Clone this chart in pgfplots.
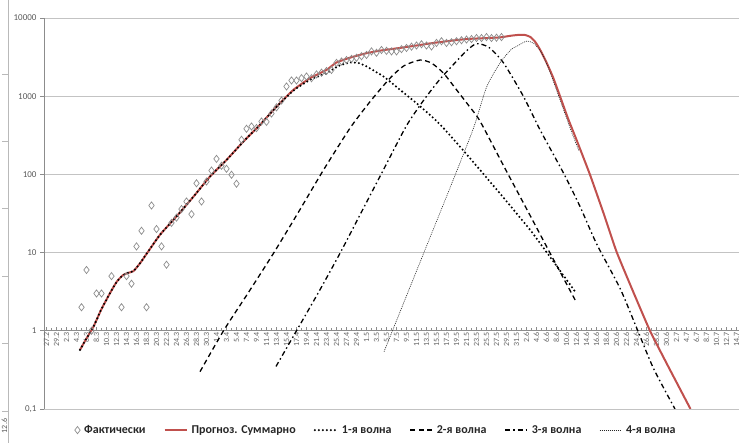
\documentclass[border=0pt]{standalone}
\usepackage{pgfplots}
\pgfplotsset{compat=1.18}
\usepackage{fontspec}
\setmainfont{Carlito}
\definecolor{exred}{RGB}{192,80,77}
\definecolor{gridgray}{RGB}{195,195,195}
\definecolor{axgray}{RGB}{140,140,140}
\definecolor{labgray}{RGB}{89,89,89}
\definecolor{ticklab}{RGB}{100,100,100}
\pgfplotsset{legline/.style={legend image code/.code={\draw[##1] (0pt,0pt) -- (22pt,0pt);}}}
\begin{document}
\begin{tikzpicture}[x=1pt,y=1pt]
\useasboundingbox (0,0) rectangle (739,443);
% fragment of a neighbouring chart at the left edge
\draw[gray!55, line width=0.6pt] (8,0) -- (8,443);
\foreach \yy in {369,302,235,167,100,32} \draw[gray!55, line width=0.6pt] (2,\yy) -- (8,\yy);
\node[rotate=90, font=\fontsize{8}{9}\selectfont, text=labgray, inner sep=0pt] at (4.5,17) {12.6};
\begin{axis}[
  at={(44pt,34pt)}, anchor=south west,
  scale only axis, width=695pt, height=391pt,
  xmin=-0.5, xmax=138.5,
  ymode=log, ymin=0.1, ymax=10000,
  axis x line=middle, axis y line=left,
  x axis line style={-, draw=axgray, line width=0.7pt},
  y axis line style={-, draw=axgray, line width=0.7pt},
  xtick={0,2,...,138},
  minor xtick={1,3,...,137},
  xticklabels={27.2,29.2,2.3,4.3,6.3,8.3,10.3,12.3,14.3,16.3,18.3,20.3,22.3,24.3,26.3,28.3,30.3,
    1.4,3.4,5.4,7.4,9.4,11.4,13.4,15.4,17.4,19.4,21.4,23.4,25.4,27.4,29.4,
    1.5,3.5,5.5,7.5,9.5,11.5,13.5,15.5,17.5,19.5,21.5,23.5,25.5,27.5,29.5,31.5,
    2.6,4.6,6.6,8.6,10.6,12.6,14.6,16.6,18.6,20.6,22.6,24.6,26.6,28.6,30.6,
    2.7,4.7,6.7,8.7,10.7,12.7,14.7},
  xticklabel style={rotate=90, anchor=east, font=\fontsize{8}{9}\selectfont, text=ticklab, inner sep=1.5pt},
  ytick={0.1,1,10,100,1000,10000},
  yticklabels={{0,1},1,10,100,1000,10000},
  yticklabel style={font=\fontsize{9}{10}\selectfont, text=labgray},
  yminorticks=false,
  ymajorgrids, major grid style={draw=gridgray, line width=0.8pt},
  tick style={draw=axgray, line width=0.6pt},
  major tick length=4pt, minor tick length=3pt,
  xtick align=inside, ytick align=outside,
  legend columns=6,
  legend cell align=left,
  legend style={draw=none, fill=none, at={(0.478,-0.054)}, anchor=center,
    font=\bfseries\fontsize{12}{14}\selectfont, text=black!85,
    /tikz/every even column/.append style={column sep=16pt},
    /tikz/every odd column/.append style={column sep=2pt}},
]
\addplot[only marks, mark=diamond, mark size=3.6pt, mark options={draw=axgray, line width=0.7pt, fill=none}]
coordinates {(7,2) (8,6) (9,1) (10,3) (11,3) (13,5) (15,2) (16,5) (17,4) (18,12) (19,19) (20,2)
(21,40) (22,20) (23,12) (24,7) (25,24) (26,28) (27,36) (28,45) (29,31) (30,77) (31,45) (32,81)
(33,112) (34,158) (35,129) (36,118) (37,99) (38,76) (39,277) (40,383) (41,410) (42,391) (43,475)
(44,470) (45,600) (46,720) (47,880) (48,1331) (49,1590) (50,1590) (51,1703) (52,1786) (53,1700)
(54,1900) (55,2000) (56,2100) (57,2166) (58,2664) (59,2780) (60,2900) (61,3000) (62,3100) (63,3250)
(64,3370) (65,3740) (66,3590) (67,3900) (68,3800) (69,3740) (70,3740) (71,4000) (72,4140) (73,4300)
(74,4450) (75,4620) (76,4450) (77,4330) (78,4800) (79,5050) (80,4800) (81,4900) (82,5050) (83,5200)
(84,5300) (85,5380) (86,5540) (87,5540) (88,5700) (89,5540) (90,5600) (91,5700)};
\addlegendentry{Фактически}
\addplot[exred, line width=2pt, smooth, tension=0.3, legline]
coordinates {(6.7,0.57) (8,0.8) (9.4,1.13) (11,1.9) (12.7,3.03) (14,4.2) (15.2,5.1) (16.3,5.5)
(17.4,5.8) (18.7,7.3) (20,9.6) (22.7,16.9) (26,29) (29.4,52) (32.7,94) (36,153) (39.4,264)
(42.7,430) (46,735) (49.4,1208) (52.7,1700) (56,2166) (58,2700) (61,3150) (64,3550) (67,3850)
(70.7,4140) (74,4450) (77.4,4800) (80.7,5100) (84,5380) (87.5,5520) (90.7,5650) (93,5950)
(94.7,6100) (95.8,6050) (96.8,5700) (97.8,4900) (98.7,3950) (100,2700) (101.3,1750) (102.7,1000)
(104.3,520) (106,277) (108.7,99) (111.4,32) (114,10.3) (117.3,3.2) (120.7,1.0) (124,0.386) (128.8,0.1)};
\addlegendentry{Прогноз. Суммарно}
\addplot[black, line width=2.3pt, dash pattern=on 0pt off 4pt, line cap=round, smooth, tension=0.3, legline]
coordinates {(6.7,0.57) (8,0.8) (9.4,1.13) (11,1.9) (12.7,3.03) (14,4.2) (15.2,5.1) (16.3,5.5)
(17.4,5.8) (18.7,7.3) (20,9.6) (22.7,16.9) (26,29) (29.4,52) (32.7,94) (36,153) (39.4,264)
(42.7,430) (46,730) (49.4,1180) (52.7,1620) (56,1980) (58.5,2450) (60.7,2700) (62.5,2650)
(64,2400) (67.4,1786) (70.7,1208) (74,813) (77.4,525) (79.4,391) (83,215) (86.7,114) (91,54)
(96.7,19.6) (101,8.3) (106,3.0)};
\addlegendentry{1-я волна}
\addplot[black, line width=1.3pt, dash pattern=on 5pt off 3.5pt, smooth, tension=0.4, legline]
coordinates {(30.7,0.3) (35.4,1) (40.4,3.1) (45.4,9.8) (50.4,33) (55.4,114) (60.7,390) (64.7,850)
(68.7,1700) (71.5,2450) (74.7,2900) (77,2650) (79.4,1970) (82,1208) (84.5,750) (86.7,480)
(91.5,126) (96.7,30) (101,9.1) (106,2.3)};
\addlegendentry{2-я волна}
\addplot[black, line width=1.3pt, dash pattern=on 5pt off 3pt on 1.5pt off 3pt, smooth, tension=0.4, legline]
coordinates {(45.9,0.35) (50,1) (54.4,3.1) (58.7,9.8) (62.7,30.4) (67.4,115) (72,420) (75.5,900)
(78.7,1650) (82,2800) (84,3800) (86,4700) (88.5,4200) (91.4,2664) (95.4,990) (98.7,372)
(103.4,104) (106.7,38.9) (110,13) (114.7,3.5) (118,1.1) (121.4,0.33) (125.7,0.1)};
\addlegendentry{3-я волна}
\addplot[black!85, line width=0.6pt, dash pattern=on 1pt off 1pt, smooth, tension=0.4, legline]
coordinates {(67.5,0.54) (72,2.8) (76.5,14.5) (81,75) (85.4,391) (88,1300) (90.7,2664) (93,4000)
(94,4330) (96,5050) (97.5,4700) (99,3600) (100.5,2200) (102.7,900) (105,350) (106.5,200)};
\addlegendentry{4-я волна}
\end{axis}
\end{tikzpicture}
\end{document}
